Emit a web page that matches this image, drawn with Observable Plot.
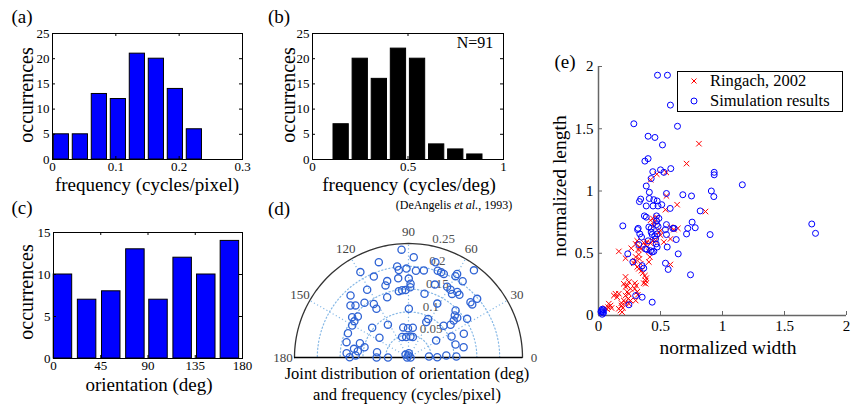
<!DOCTYPE html>
<html><head><meta charset="utf-8">
<script src="https://cdn.jsdelivr.net/npm/d3@7"></script>
<script src="https://cdn.jsdelivr.net/npm/@observablehq/plot@0.6"></script>
<style>
body{margin:0;background:#fff;}
#fig{position:relative;width:857px;height:405px;overflow:hidden;font-family:"Liberation Serif","Times New Roman",serif;color:#000;background:#fff;}
.abs{position:absolute;white-space:nowrap;line-height:1;}
.panel{position:absolute;}
</style></head>
<body><div id="fig"></div>
<script>
// ---------- data ----------
// (a) histogram of model spatial frequency (cycles/pixel)
const aCenters = [0.014,0.044,0.074,0.104,0.134,0.164,0.194,0.224,0.254,0.284];
const aCounts  = [5,5,13,12,21,20,14,6,0,0];
// (b) DeAngelis et al. 1993 (cycles/deg)
const bCenters = [0.05,0.15,0.25,0.35,0.45,0.55,0.65,0.75,0.85,0.95];
const bCounts  = [0,7,20,16,22,20,3,2,1,0];
// (c) orientation (deg)
const cCenters = [9,32,55,78,100,123,145.5,168];
const cCounts  = [10,7,8,13,7,12,10,14];
// tick labels
const aXTicks = [0,0.1,0.2,0.3], abYTicks = [0,5,10,15,20,25];
const bXTicks = [0,0.5,1];
const cXTicks = [0,45,90,135,180], cYTicks = [0,5,10,15];
// (d) joint distribution: orientation (deg) and frequency (cycles/pixel)
const dOrient = [93.7,107.3,119.4,113.2,97.1,96.3,91.3,105.6,107.7,97.4,121.4,133.1,98.3,95.4,92.5,109.5,138.1,135.5,122.9,123.3,
  144.4,141.0,146.1,150.4,122.1,140.7,99.9,158.2,107.2,145.8,163.6,166.8,171.0,172.9,176.0,177.8,179.7,180,180,170.4,166.1,128.8,91.0,96.5,
  135,86,180,0,90,
  87.0,85.1,80.0,74.2,71.4,69.0,67.1,60.0,59.8,54.6,53.1,89.8,88.4,88.6,75.9,70.1,61.4,58.2,55.6,53.3,50.9,41.7,39.8,40.5,61.9,89.6,
  45.0,42.2,39.2,39.2,33.4,63.0,63.4,42.2,37.9,81.8,84.6,78.0,31.5,26.0,15.5,23.2,10.6,2.8,0.6,3.0,1.2];
const dFreq = [0.237,0.219,0.215,0.193,0.201,0.193,0.195,0.174,0.166,0.175,0.174,0.186,0.147,0.148,0.148,0.140,0.171,0.163,0.140,0.128,
  0.152,0.143,0.143,0.142,0.085,0.103,0.067,0.143,0.047,0.077,0.111,0.099,0.121,0.112,0.136,0.116,0.129,0.070,0.045,0.070,0.140,0.154,0.064,0.045,
  0.009,0.0095,0.003,0.0045,0.0044,
  0.220,0.191,0.194,0.217,0.201,0.200,0.199,0.206,0.212,0.205,0.239,0.173,0.162,0.154,0.144,0.170,0.177,0.175,0.169,0.179,0.177,0.182,0.182,0.198,0.134,0.107,
  0.146,0.137,0.138,0.128,0.154,0.095,0.087,0.104,0.117,0.066,0.046,0.046,0.071,0.105,0.107,0.132,0.123,0.045,0.063,0.083,0.105];
const dRings = [0.05,0.1,0.15,0.2];
const dRingLabels = [0.05,0.1,0.15,0.2,0.25];
const dSpokes = [30,60,90,120,150];
const dAngleLabels = [0,30,60,90,120,150,180];
// (e) normalized width / length
const ringW = [0.81,0.71,0.546,0.47,0.42,0.548,0.634,0.863,0.54,0.438,0.454,0.468,0.446,0.42,0.64,0.58,0.608,0.58,0.50,0.486,0.50,0.46,0.527,0.438,0.42,0.39,0.406,
  0.312,0.30,0.365,0.38,0.333,0.32,0.34,0.264,0.164,0.218,0.30,0.293,0.33,0.34,0.325,0.406,0.414,0.285,0.312,0.325,0.347,0.357,0.374,0.58,0.385,0.38,0.365,0.38,
  0.245,0.234,0.293,0.304,0.204,0.218,0.218,0.231,0.245,0.218,0.293,0.312,0.258,0.204,0.185,0.218,0.164,0.15,0.24,0.258,0.245,0.30,0.317,0.185,0.196,0.177,0.164,0.19,
  0.083,0.097,0.078,0.105,0.056,0.07,0.137,0.124];
const ringL = [1.38,1.22,1.15,1.135,1.09,0.96,0.89,0.835,0.85,0.78,0.755,0.79,0.72,0.765,0.70,0.71,0.69,0.615,0.68,0.67,0.645,0.60,0.59,0.60,0.58,0.59,0.515,
  0.60,0.575,0.585,0.56,0.55,0.53,0.535,0.54,0.515,0.46,0.47,0.44,0.455,0.415,0.49,0.43,0.47,0.42,0.39,0.375,0.36,0.34,0.32,0.41,0.30,0.28,0.26,0.255,
  0.27,0.24,0.26,0.24,0.255,0.23,0.31,0.19,0.175,0.16,0.215,0.19,0.215,0.12,0.10,0.10,0.175,0.147,0.135,0.12,0.095,0.12,0.166,0.08,0.06,0.04,0.054,0.027,
  0.095,0.08,0.067,0.06,0.06,0.05,0.175,0.16];
const simW = [0.476,0.556,0.58,0.285,0.637,0.40,0.455,0.516,0.40,0.374,0.438,0.50,0.527,0.583,0.425,0.385,0.41,0.548,0.68,0.75,0.933,0.933,0.91,0.93,1.16,
  0.34,0.33,0.41,0.446,0.473,0.385,0.44,0.48,0.51,0.578,0.82,0.37,0.385,0.468,0.487,0.468,0.196,0.32,0.315,0.406,0.425,0.468,0.48,0.548,0.60,0.61,0.72,0.755,0.78,
  0.71,0.90,0.333,0.347,0.425,0.433,0.473,0.454,0.54,0.548,0.627,0.40,0.46,0.325,0.465,0.473,0.554,0.39,0.38,0.42,0.433,0.446,0.236,0.643,0.277,0.352,0.365,
  0.54,0.562,0.742,0.30,0.352,0.245,0.433,1.72,1.75,0.03,0.02,0.04,0.03,0.025,0.035,0.04];
const simL = [1.93,1.93,1.69,1.54,1.52,1.44,1.43,1.37,1.26,1.24,1.155,1.17,1.15,1.18,1.10,1.04,0.99,0.98,0.97,0.96,1.15,1.13,1.0,0.955,1.05,
  0.935,0.915,0.94,0.93,0.92,0.88,0.88,0.88,0.89,0.86,0.84,0.80,0.79,0.80,0.78,0.76,0.72,0.70,0.69,0.71,0.70,0.73,0.715,0.73,0.70,0.70,0.70,0.75,0.705,
  0.655,0.65,0.655,0.63,0.67,0.65,0.655,0.64,0.69,0.65,0.61,0.60,0.615,0.57,0.575,0.55,0.55,0.53,0.535,0.52,0.51,0.515,0.495,0.495,0.43,0.40,0.38,
  0.42,0.37,0.327,0.16,0.147,0.086,0.107,0.735,0.66,0.05,0.03,0.02,0.01,0.04,0.03,0.045];
const eTicks = [0,0.5,1,1.5,2];

// ---------- helpers ----------
const fig = document.getElementById("fig");
const SERIF = '"Liberation Serif","Times New Roman",serif';
function label(html, x, y, size, opts = {}) {
  const d = document.createElement("div");
  d.className = "abs";
  d.innerHTML = html;
  d.style.left = x + "px"; d.style.top = y + "px";
  d.style.fontSize = size + "px";
  d.style.transform = opts.start ? "translate(0,-50%)" : "translate(-50%,-50%)" + (opts.rotate ? " rotate(-90deg)" : "");
  if (opts.color) d.style.color = opts.color;
  fig.appendChild(d);
}
function mount(svg, left, top) {
  const w = document.createElement("div");
  w.className = "panel"; w.style.left = left + "px"; w.style.top = top + "px";
  w.appendChild(svg); fig.appendChild(w);
}
const fmt = d => String(d);

function hist({centers, counts, bw, fill, xDomain, yDomain, xTicks, yTicks, W, H, m}) {
  const data = centers.map((c, i) => ({c, n: counts[i]}));
  const pw = W - m.l - m.r, ph = H - m.t - m.b;
  const tx = 3 * (xDomain[1] - xDomain[0]) / pw, ty = 3 * (yDomain[1] - yDomain[0]) / ph;
  return Plot.plot({
    width: W, height: H, marginLeft: m.l, marginRight: m.r, marginTop: m.t, marginBottom: m.b,
    style: {fontFamily: SERIF, fontSize: "13px", background: "transparent", overflow: "visible"},
    x: {domain: xDomain}, y: {domain: yDomain},
    marks: [
      Plot.rectY(data, {x1: d => d.c - bw / 2, x2: d => d.c + bw / 2, y1: 0, y2: "n", fill, stroke: "#000", strokeWidth: 1}),
      Plot.ruleX(xTicks, {x: d => d, y1: yDomain[0], y2: yDomain[0] + ty, stroke: "#000"}),
      Plot.ruleX(xTicks, {x: d => d, y1: yDomain[1] - ty, y2: yDomain[1], stroke: "#000"}),
      Plot.ruleY(yTicks, {y: d => d, x1: xDomain[0], x2: xDomain[0] + tx, stroke: "#000"}),
      Plot.ruleY(yTicks, {y: d => d, x1: xDomain[1] - tx, x2: xDomain[1], stroke: "#000"}),
      Plot.frame({stroke: "#000", strokeWidth: 1}),
      Plot.axisX({ticks: xTicks, tickFormat: fmt, tickSize: 0, tickPadding: 2, label: null}),
      Plot.axisY({ticks: yTicks, tickFormat: fmt, tickSize: 0, tickPadding: 3, label: null})
    ]
  });
}

// (a)
mount(hist({centers: aCenters, counts: aCounts, bw: 0.024, fill: "#0000ff", xDomain: [0, 0.3], yDomain: [0, 25],
  xTicks: aXTicks, yTicks: abYTicks, W: 260, H: 195, m: {l: 52, r: 18, t: 33, b: 36}}), 0, 0);
// (b)
mount(hist({centers: bCenters, counts: bCounts, bw: 0.08, fill: "#000000", xDomain: [0, 1], yDomain: [0, 25],
  xTicks: bXTicks, yTicks: abYTicks, W: 260, H: 195, m: {l: 52, r: 17, t: 33, b: 36}}), 260, 0);
// (c)
mount(hist({centers: cCenters, counts: cCounts, bw: 17.6, fill: "#0000ff", xDomain: [0, 180], yDomain: [0, 15],
  xTicks: cXTicks, yTicks: cYTicks, W: 260, H: 200, m: {l: 53, r: 18, t: 37, b: 37}}), 0, 195);

// (d) polar scatter
{
  const rad = Math.PI / 180;
  const pts = dOrient.map((o, i) => ({o, f: dFreq[i]}));
  const angles = d3.range(0, 181, 2);
  const ringPts = dRings.flatMap(r => angles.map(a => ({r, a})));
  const outer = angles.map(a => ({r: 0.25, a}));
  const grid = "#86b8e6";
  const svg = Plot.plot({
    width: 270, height: 176, marginLeft: 24, marginRight: 18, marginTop: 53, marginBottom: 9,
    style: {fontFamily: SERIF, fontSize: "13px", background: "transparent", overflow: "visible"},
    x: {domain: [-0.25, 0.25], axis: null}, y: {domain: [0, 0.25], axis: null},
    marks: [
      Plot.line(ringPts, {x: d => d.r * Math.cos(d.a * rad), y: d => d.r * Math.sin(d.a * rad), z: "r", stroke: grid, strokeWidth: 1.2, strokeDasharray: "1.2,2.4"}),
      Plot.link(dSpokes, {x1: 0, y1: 0, x2: a => 0.25 * Math.cos(a * rad), y2: a => 0.25 * Math.sin(a * rad), stroke: grid, strokeWidth: 1.2, strokeDasharray: "1.2,2.4"}),
      Plot.line(outer, {x: d => d.r * Math.cos(d.a * rad), y: d => d.r * Math.sin(d.a * rad), stroke: "#333", strokeWidth: 1.3}),
      Plot.ruleY([0], {x1: -0.25, x2: 0.25, stroke: "#000", strokeWidth: 1.3}),
      Plot.text(dRingLabels, {x: r => r * Math.cos(82 * rad), y: r => r * Math.sin(82 * rad), text: fmt, dx: 8, dy: -6, textAnchor: "start", fill: "#555", fontSize: 13}),
      Plot.dot(pts, {x: d => d.f * Math.cos(d.o * rad), y: d => d.f * Math.sin(d.o * rad), r: 3.6, stroke: "#2f63d4", strokeWidth: 1.3, fill: "none"}),
      Plot.text(dAngleLabels, {x: a => 0.275 * Math.cos(a * rad), y: a => 0.275 * Math.sin(a * rad), text: fmt, fill: "#444", fontSize: 13})
    ]
  });
  mount(svg, 270, 190);
}

// (e) scatter
{
  const ring = ringW.map((w, i) => ({w, l: ringL[i]}));
  const sim = simW.map((w, i) => ({w, l: simL[i]}));
  const W = 307, H = 300, m = {l: 48, r: 11, t: 26, b: 25};
  const t = 4 * 2 / (W - m.l - m.r), tv = 4 * 2 / (H - m.t - m.b);
  const svg = Plot.plot({
    width: W, height: H, marginLeft: m.l, marginRight: m.r, marginTop: m.t, marginBottom: m.b,
    style: {fontFamily: SERIF, fontSize: "15px", background: "transparent", overflow: "visible"},
    x: {domain: [0, 2]}, y: {domain: [0, 2]},
    marks: [
      Plot.ruleY([0], {x1: 0, x2: 2, stroke: "#666", strokeWidth: 1.5}),
      Plot.ruleX([0], {y1: 0, y2: 2, stroke: "#666", strokeWidth: 1.5}),
      Plot.ruleX(eTicks, {x: d => d, y1: 0, y2: tv, stroke: "#666"}),
      Plot.ruleY(eTicks, {y: d => d, x1: 0, x2: t, stroke: "#666"}),
      Plot.dot(ring, {x: "w", y: "l", symbol: "times", r: 2.6, stroke: "#ff0000", strokeWidth: 1}),
      Plot.dot(sim, {x: "w", y: "l", r: 3, stroke: "#0000ff", strokeWidth: 1, fill: "none"}),
      Plot.axisX({ticks: eTicks, tickFormat: fmt, tickSize: 0, tickPadding: 5, label: null}),
      Plot.axisY({ticks: eTicks, tickFormat: fmt, tickSize: 0, tickPadding: 5, label: null})
    ]
  });
  mount(svg, 550, 40);

  // legend
  const box = document.createElement("div");
  box.className = "abs";
  Object.assign(box.style, {left: "677px", top: "71px", width: "164px", height: "39px", border: "1.5px solid #000", background: "#fff"});
  fig.appendChild(box);
  const lg = document.createElementNS("http://www.w3.org/2000/svg", "svg");
  lg.setAttribute("width", "30"); lg.setAttribute("height", "40");
  Object.assign(lg.style, {position: "absolute", left: "680px", top: "72px"});
  lg.innerHTML = '<path d="M11.5,6.5L16.5,11.5M16.5,6.5L11.5,11.5" stroke="#ff0000" stroke-width="1"/>' +
                 '<circle cx="14" cy="29" r="3" fill="none" stroke="#0000ff" stroke-width="1"/>';
  fig.appendChild(lg);
  label("Ringach, 2002", 710, 81, 16.5, {start: true});
  label("Simulation results", 710, 101, 16.5, {start: true});
}

// ---------- text labels ----------
label("(a)", 22, 16, 19);
label("(b)", 279, 16, 19);
label("(c)", 22, 207, 19);
label("(d)", 279, 208, 19);
label("(e)", 565, 61, 19);
label("occurrences", 26, 95, 20, {rotate: true});
label("occurrences", 288, 95, 20, {rotate: true});
label("occurrences", 26, 292, 20, {rotate: true});
label("frequency (cycles/pixel)", 147, 184, 19);
label("frequency (cycles/deg)", 409, 184, 19);
label("orientation (deg)", 149, 384, 19);
label("N=91", 475, 43, 16);
label("(DeAngelis <i>et al.</i>, 1993)", 454, 205, 12);
label("Joint distribution of orientation (deg)", 407, 374, 16.5);
label("and frequency (cycles/pixel)", 407, 395, 16.5);
label("normalized length", 560, 186, 19.5, {rotate: true});
label("normalized width", 728, 348, 19.5);
</script></body></html>
